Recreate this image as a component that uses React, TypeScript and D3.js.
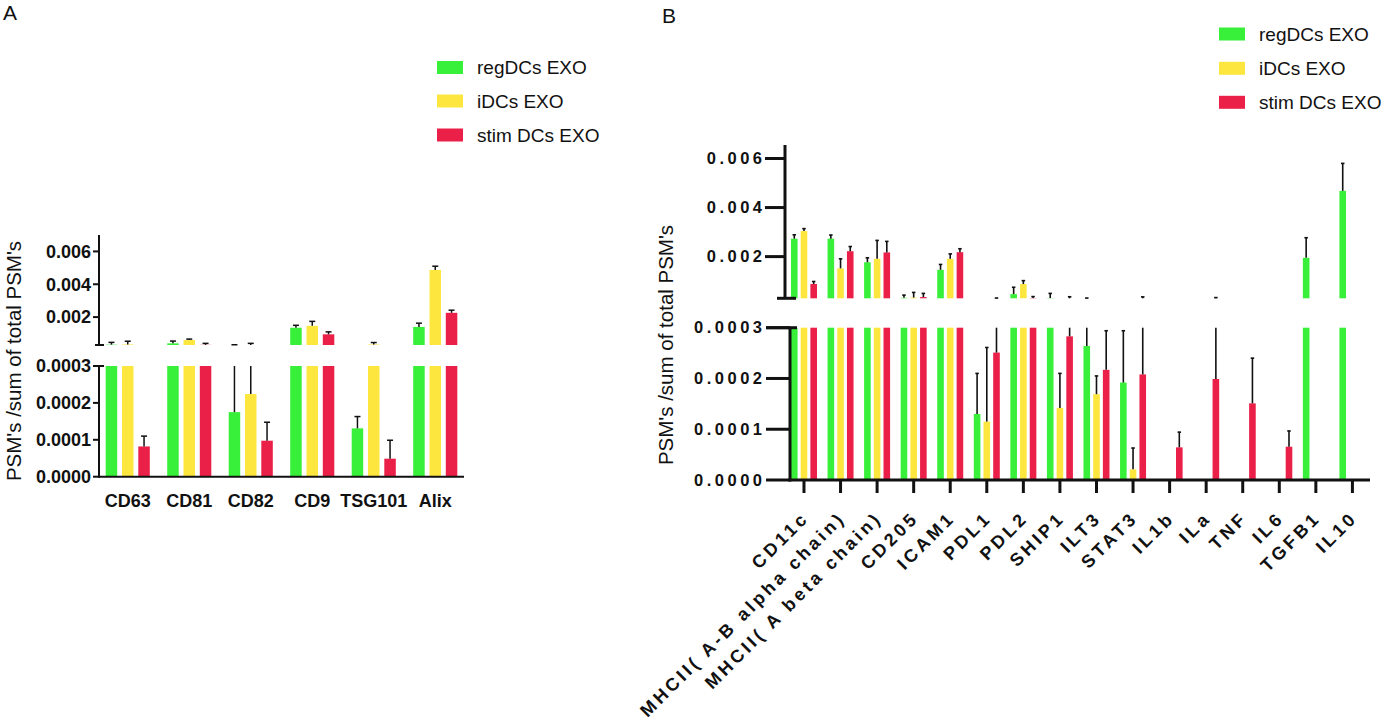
import React from 'react';
import * as d3 from 'd3';

// ---------- data ----------
const seriesNames = ['regDCs EXO', 'iDCs EXO', 'stim DCs EXO'];
const seriesColors = ['#38f03a', '#fde73f', '#eb2049'];

const catsA = ['CD63', 'CD81', 'CD82', 'CD9', 'TSG101', 'Alix'];
const regA = [0.00032, 0.0004, 0.000175, 0.00135, 0.000131, 0.0014];
const regAErr = [0.00014, 0.00014, 0.00014, 0.00015, 0.000032, 0.00023];
const iA = [0.00033, 0.0006, 0.000224, 0.00147, 0.00033, 0.00487];
const iAErr = [0.0002, 0.00006, 0.000176, 0.00027, 0.00012, 0.00023];
const stimA = [0.000082, 0.00031, 0.0000976, 0.00095, 0.0000488, 0.00226];
const stimAErr = [0.000028, 0.00009, 0.00005, 0.00015, 0.00005, 0.00016];

const catsB = ['CD11c', 'MHCII( A-B alpha chain)', 'MHCII( A beta chain)', 'CD205', 'ICAM1', 'PDL1', 'PDL2', 'SHIP1', 'ILT3', 'STAT3', 'IL1b', 'ILa', 'TNF', 'IL6', 'TGFB1', 'IL10'];
const regB = [0.00273, 0.00273, 0.00177, 0.00032, 0.00146, 0.00013, 0.00047, 0.00031, 0.000264, 0.000192, 0, 0, 0, 0, 0.00195, 0.00468];
const regBErr = [0.00016, 0.00015, 0.00018, 0.00011, 0.00022, 0.00008, 0.00028, 0.00019, 0.000046, 0.000102, 0, 0, 0, 0, 0.00082, 0.00112];
const iB = [0.00304, 0.00152, 0.00191, 0.00033, 0.00191, 0.000115, 0.00088, 0.000142, 0.000169, 0.000021, 0, 0, 0, 0, 0, 0];
const iBErr = [0.0001, 0.00039, 0.00075, 0.00021, 0.0002, 0.000146, 0.00014, 0.000068, 0.000036, 0.000042, 0, 0, 0, 0, 0, 0];
const stimB = [0.000885, 0.00222, 0.00217, 0.00035, 0.00218, 0.000251, 0.00031, 0.000283, 0.000217, 0.000208, 0.0000643, 0.000199, 0.000151, 0.0000656, 0, 0];
const stimBErr = [0.0001, 0.00019, 0.00045, 0.00015, 0.00014, 0.00006, 0.00006, 0.00008, 0.000077, 0.00015, 0.00003, 0.00013, 0.000089, 0.000031, 0, 0];

const upperTicks = [0.002, 0.004, 0.006];
const lowerTicks = [0, 0.0001, 0.0002, 0.0003];
const BREAK = 0.0003;
const yTitle = "PSM's /sum of total PSM's";

const FONT = "'Liberation Sans', Arial, Helvetica, sans-serif";

type BarsProps = {
  cats: string[];
  values: number[][];
  errs: number[][];
  x: d3.ScaleBand<string>;
  offsets: number[];
  bw: number;
  yLow: d3.ScaleLinear<number, number>;
  yHigh: d3.ScaleLinear<number, number>;
  capW: number;
  errW: number;
  keyP: string;
};

function Bars(p: BarsProps) {
  const rects: React.ReactNode[] = [];
  const errs: React.ReactNode[] = [];
  p.values.forEach((vals, s) => {
    vals.forEach((v, i) => {
      if (!v) return;
      const cx = (p.x(p.cats[i]) as number) + p.x.bandwidth() / 2 + p.offsets[s];
      const e = p.errs[s][i];
      const top = v + e;
      const lv = Math.min(v, BREAK);
      rects.push(
        <rect key={`${p.keyP}l${s}-${i}`} x={cx - p.bw / 2} y={p.yLow(lv)} width={p.bw}
          height={p.yLow(0) - p.yLow(lv)} fill={seriesColors[s]} />
      );
      if (v > BREAK) {
        rects.push(
          <rect key={`${p.keyP}h${s}-${i}`} x={cx - p.bw / 2} y={p.yHigh(v)} width={p.bw}
            height={p.yHigh(BREAK) - p.yHigh(v)} fill={seriesColors[s]} />
        );
      }
      if (e > 0) {
        if (v < BREAK) {
          const t = Math.min(top, BREAK);
          errs.push(<line key={`${p.keyP}el${s}-${i}`} x1={cx} x2={cx} y1={p.yLow(v)} y2={p.yLow(t)} stroke="#111" strokeWidth={p.errW} />);
          if (top <= BREAK) {
            errs.push(<line key={`${p.keyP}cl${s}-${i}`} x1={cx - p.capW / 2} x2={cx + p.capW / 2} y1={p.yLow(top)} y2={p.yLow(top)} stroke="#111" strokeWidth={p.errW} />);
          }
        }
        if (top > BREAK) {
          const b = Math.max(v, BREAK);
          errs.push(<line key={`${p.keyP}eh${s}-${i}`} x1={cx} x2={cx} y1={p.yHigh(b)} y2={p.yHigh(top)} stroke="#111" strokeWidth={p.errW} />);
          errs.push(<line key={`${p.keyP}ch${s}-${i}`} x1={cx - p.capW / 2} x2={cx + p.capW / 2} y1={p.yHigh(top)} y2={p.yHigh(top)} stroke="#111" strokeWidth={p.errW} />);
        }
      }
    });
  });
  return <g>{rects}{errs}</g>;
}

function Legend({ x, ys }: { x: number; ys: number[] }) {
  return (
    <g>
      {seriesNames.map((n, i) => (
        <g key={n}>
          <rect x={x} y={ys[i] - 6.5} width={26} height={13} fill={seriesColors[i]} />
          <text x={x + 40} y={ys[i]} dy="0.35em" fontSize={19} fontFamily={FONT} fill="#111">{n}</text>
        </g>
      ))}
    </g>
  );
}

export default function App() {
  const fmtU = d3.format('.3f');
  const fmtL = d3.format('.4f');

  // Panel A
  const xA = d3.scaleBand<string>().domain(catsA).range([97, 466]);
  const yAL = d3.scaleLinear().domain([0, BREAK]).range([476.7, 366]);
  const yAH = d3.scaleLinear().domain([BREAK, 0.007]).range([345, 235]);
  const axA = 99;

  // Panel B
  const xB = d3.scaleBand<string>().domain(catsB).range([785.7, 1370.7]);
  const yBL = d3.scaleLinear().domain([0, BREAK]).range([480, 327.7]);
  const yBH = d3.scaleLinear().domain([BREAK, 0.00655]).range([298.3, 145]);
  const axBU = 785;
  const axBL = 790;

  return (
    <svg width={1385} height={720} style={{ position: 'absolute', left: 0, top: 0, display: 'block', background: '#fff' }}>
      {/* panel letters */}
      <text x={3} y={20} fontSize={21} fontFamily={FONT} fill="#111">A</text>
      <text x={662} y={23} fontSize={21} fontFamily={FONT} fill="#111">B</text>

      {/* ===== Panel A ===== */}
      <Legend x={437} ys={[67.5, 101, 135]} />
      <Bars cats={catsA} values={[regA, iA, stimA]} errs={[regAErr, iAErr, stimAErr]} x={xA}
        offsets={[-16.3, 0, 16.3]} bw={11.5} yLow={yAL} yHigh={yAH} capW={6} errW={1.5} keyP="A" />
      <g stroke="#111" strokeWidth={2} fill="none">
        <line x1={axA} x2={axA} y1={235} y2={345} />
        <line x1={95} x2={104} y1={345} y2={345} />
        <line x1={axA} x2={axA} y1={366} y2={477.7} />
        <line x1={93} x2={104} y1={366} y2={366} />
        <line x1={axA - 1} x2={464} y1={476.7} y2={476.7} />
        {upperTicks.map(t => <line key={`au${t}`} x1={93} x2={axA} y1={yAH(t)} y2={yAH(t)} />)}
        {lowerTicks.map(t => <line key={`al${t}`} x1={93} x2={axA} y1={yAL(t)} y2={yAL(t)} />)}
      </g>
      <g fontFamily={FONT} fontWeight="bold" fontSize={18} fill="#111" textAnchor="end">
        {upperTicks.map(t => <text key={`aut${t}`} x={91} y={yAH(t)} dy="0.35em">{fmtU(t)}</text>)}
        {lowerTicks.map(t => <text key={`alt${t}`} x={91} y={yAL(t)} dy="0.35em">{fmtL(t)}</text>)}
      </g>
      <g fontFamily={FONT} fontWeight="bold" fontSize={18} fill="#111" textAnchor="middle">
        {catsA.map(c => <text key={`ax${c}`} x={(xA(c) as number) + xA.bandwidth() / 2} y={506.7}>{c}</text>)}
      </g>
      <text transform="translate(14,361) rotate(-90)" textAnchor="middle" dy="0.35em" fontSize={20.5} fontFamily={FONT} fill="#111">{yTitle}</text>

      {/* ===== Panel B ===== */}
      <Legend x={1219} ys={[34, 68.3, 102.3]} />
      <Bars cats={catsB} values={[regB, iB, stimB]} errs={[regBErr, iBErr, stimBErr]} x={xB}
        offsets={[-9.7, 0, 9.7]} bw={6.6} yLow={yBL} yHigh={yBH} capW={3.5} errW={1.6} keyP="B" />
      <g stroke="#111" strokeWidth={3} fill="none">
        <line x1={axBU} x2={axBU} y1={145} y2={298.3} />
        <line x1={777} x2={796} y1={298.3} y2={298.3} />
        <line x1={axBL} x2={axBL} y1={327.7} y2={481.5} />
        <line x1={766} x2={797} y1={327.7} y2={327.7} />
        <line x1={axBL - 1.5} x2={1370} y1={480} y2={480} />
        {upperTicks.map(t => <line key={`bu${t}`} x1={765} x2={axBU} y1={yBH(t)} y2={yBH(t)} />)}
        {lowerTicks.map(t => <line key={`bl${t}`} x1={766} x2={axBL} y1={yBL(t)} y2={yBL(t)} />)}
        {catsB.map(c => {
          const cx = (xB(c) as number) + xB.bandwidth() / 2;
          return <line key={`bt${c}`} x1={cx} x2={cx} y1={480} y2={493} />;
        })}
      </g>
      <g fontFamily={FONT} fontWeight="bold" fontSize={16.5} fill="#111" textAnchor="end" letterSpacing={3.5}>
        {upperTicks.map(t => <text key={`but${t}`} x={765.5} y={yBH(t)} dy="0.35em">{fmtU(t)}</text>)}
        {lowerTicks.map(t => <text key={`blt${t}`} x={765.5} y={yBL(t)} dy="0.35em">{fmtL(t)}</text>)}
      </g>
      <g fontFamily={FONT} fontWeight="bold" fontSize={18} fill="#111" textAnchor="end" letterSpacing={3.4}>
        {catsB.map(c => {
          const cx = (xB(c) as number) + xB.bandwidth() / 2;
          return <text key={`bx${c}`} transform={`translate(${cx + 6},${519}) rotate(-45)`}>{c}</text>;
        })}
      </g>
      <text transform="translate(666,345) rotate(-90)" textAnchor="middle" dy="0.35em" fontSize={20.5} fontFamily={FONT} fill="#111">{yTitle}</text>
    </svg>
  );
}
